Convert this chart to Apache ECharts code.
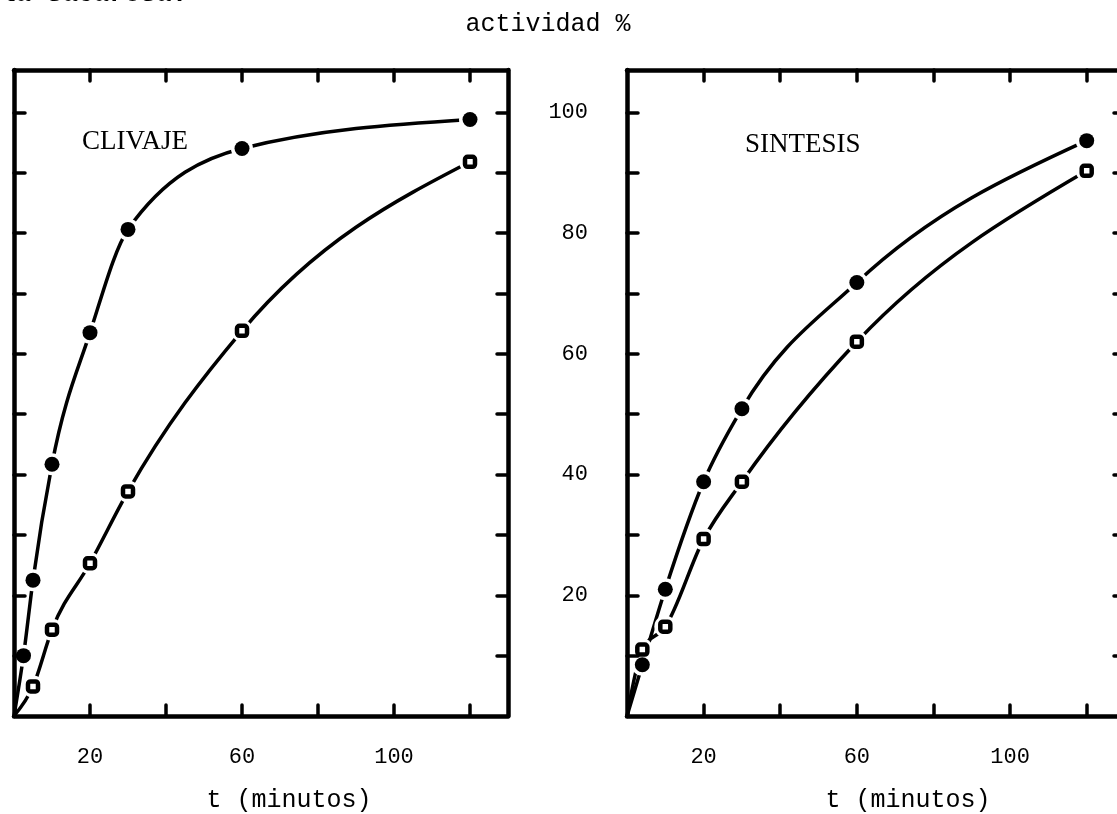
<!DOCTYPE html>
<html>
<head>
<meta charset="utf-8">
<script src="https://cdn.jsdelivr.net/npm/echarts@6/dist/echarts.min.js"></script>
<style>
  html, body { margin: 0; padding: 0; background: #fff; }
  #chart { width: 1117px; height: 814px; }
</style>
</head>
<body>
<div id="chart"></div>
<script>
// Time points (minutes) and activity (%) for each panel
const tClivFilled = [0, 2.5, 5, 10, 20, 30, 60, 120];
const clivFilled  = [0, 10, 22.5, 41.7, 63.5, 80.6, 94, 98.8];
const tClivOpen   = [0, 5, 10, 20, 30, 60, 120];
const clivOpen    = [0, 4.9, 14.3, 25.3, 37.2, 63.8, 91.8];

const tSintFilled = [0, 4, 10, 20, 30, 60, 120];
const sintFilled  = [0, 8.5, 21, 38.8, 50.9, 71.8, 95.3];
const tSintOpen   = [0, 4, 10, 20, 30, 60, 120];
const sintOpen    = [0, 11, 14.8, 29.3, 38.8, 62, 90.3];

// Axis ticks and labels
const xTicks = [20, 40, 60, 80, 100, 120];
const xLabels = [20, 60, 100];
const yTicks = [10, 20, 30, 40, 50, 60, 70, 80, 90, 100];
const yLabels = [20, 40, 60, 80, 100];

const panelNames = ['CLIVAJE', 'SINTESIS'];
const yTitle = 'actividad %';
const xTitle = 't (minutos)';

const INK = '#000';
const MONO = 'Liberation Mono';

function pairs(ts, ys) { return ts.map((t, i) => [t, ys[i]]); }
function marked(ts, ys) { return pairs(ts, ys).filter(p => p[0] > 0); }

// Monotone cubic (Fritsch–Carlson style) segments through pixel points
function monotoneSegments(p) {
  const n = p.length;
  const sign = v => (v < 0 ? -1 : 1);
  const m = new Array(n);
  for (let k = 1; k < n - 1; k++) {
    const h0 = p[k][0] - p[k - 1][0], h1 = p[k + 1][0] - p[k][0];
    const s0 = (p[k][1] - p[k - 1][1]) / h0, s1 = (p[k + 1][1] - p[k][1]) / h1;
    const q = (s0 * h1 + s1 * h0) / (h0 + h1);
    m[k] = (sign(s0) + sign(s1)) * Math.min(Math.abs(s0), Math.abs(s1), 0.5 * Math.abs(q)) || 0;
  }
  const endSlope = (a, b, t) => {
    const h = b[0] - a[0];
    return h ? (3 * (b[1] - a[1]) / h - t) / 2 : t;
  };
  m[0] = endSlope(p[0], p[1], m[1]);
  m[n - 1] = endSlope(p[n - 2], p[n - 1], m[n - 2]);
  const segs = [];
  for (let k = 0; k < n - 1; k++) {
    const dx = (p[k + 1][0] - p[k][0]) / 3;
    segs.push({
      x1: p[k][0], y1: p[k][1],
      cpx1: p[k][0] + dx, cpy1: p[k][1] + dx * m[k],
      cpx2: p[k + 1][0] - dx, cpy2: p[k + 1][1] - dx * m[k + 1],
      x2: p[k + 1][0], y2: p[k + 1][1]
    });
  }
  return segs;
}

const grids = [
  { left: 14, top: 70, width: 494, height: 646 },
  { left: 627, top: 70, width: 498, height: 646 }
];

const xAxes = [];
const yAxes = [];
grids.forEach((g, gi) => {
  ['bottom', 'top'].forEach(pos => {
    xAxes.push({
      type: 'value', gridIndex: gi, position: pos, min: 0, max: 130, z: 5,
      axisLine: { show: true, onZero: false, lineStyle: { color: INK, width: 4.5 } },
      axisTick: { show: true, inside: true, length: 11, customValues: xTicks,
                  lineStyle: { color: INK, width: 3.5, cap: 'round' } },
      axisLabel: { show: pos === 'bottom', customValues: xLabels, margin: 30,
                   color: INK, fontFamily: MONO, fontSize: 22 },
      splitLine: { show: false }
    });
  });
  ['left', 'right'].forEach(pos => {
    yAxes.push({
      type: 'value', gridIndex: gi, position: pos, min: 0, max: 107, z: 5,
      axisLine: { show: true, onZero: false, lineStyle: { color: INK, width: 4.5 } },
      axisTick: { show: true, inside: true, length: 11, customValues: yTicks,
                  lineStyle: { color: INK, width: 3.5, cap: 'round' } },
      axisLabel: { show: gi === 1 && pos === 'left', customValues: yLabels, margin: 39,
                   color: INK, fontFamily: MONO, fontSize: 22 },
      splitLine: { show: false }
    });
  });
});

function panelSeries(gi, filled, open) {
  const xi = gi * 2, yi = gi * 2;
  const base = { xAxisIndex: xi, yAxisIndex: yi, animation: false, silent: true };
  // smooth curve through the measured points, placed with the axes' own scales
  const curve = (ts, ys) => Object.assign({}, base, {
    type: 'custom', z: 2, data: pairs(ts, ys),
    renderItem: (params, api) => {
      if (params.dataIndex !== 0) return null;
      const pts = ts.map((t, i) => api.coord([t, ys[i]]));
      return {
        type: 'group',
        children: monotoneSegments(pts).map(s => ({
          type: 'bezierCurve', shape: s,
          style: { stroke: INK, lineWidth: 3.5, fill: null, lineCap: 'round' }
        }))
      };
    }
  });
  const sym = { opacity: 1 };
  return [
    curve(filled[0], filled[1]),
    curve(open[0], open[1]),
    // white halos leave a small gap between each curve and its markers
    Object.assign({}, base, {
      type: 'scatter', z: 3, symbol: 'circle', symbolSize: 22,
      data: marked(filled[0], filled[1]).concat(marked(open[0], open[1])),
      itemStyle: Object.assign({ color: '#fff' }, sym)
    }),
    Object.assign({}, base, {
      type: 'scatter', z: 4, symbol: 'circle', symbolSize: 15,
      data: marked(filled[0], filled[1]),
      itemStyle: Object.assign({ color: INK }, sym)
    }),
    Object.assign({}, base, {
      type: 'scatter', z: 4, symbol: 'roundRect', symbolSize: 10,
      data: marked(open[0], open[1]),
      itemStyle: Object.assign({ color: '#fff', borderColor: INK, borderWidth: 4.5 }, sym)
    })
  ];
}

const series = []
  .concat(panelSeries(0, [tClivFilled, clivFilled], [tClivOpen, clivOpen]))
  .concat(panelSeries(1, [tSintFilled, sintFilled], [tSintOpen, sintOpen]));

const textStyle = (size, family) => ({ fill: INK, fontFamily: family, fontSize: size });

const option = {
  backgroundColor: '#fff',
  animation: false,
  grid: grids.map(g => Object.assign({ show: false, containLabel: false, outerBoundsMode: 'none' }, g)),
  xAxis: xAxes,
  yAxis: yAxes,
  series: series,
  graphic: [
    { type: 'text', left: 0, top: -19,
      style: Object.assign(textStyle(26, MONO), { text: 'la sacarosa.', fontWeight: 'bold' }) },
    { type: 'text', x: 548, y: 24,
      style: Object.assign(textStyle(25, MONO), { text: yTitle, align: 'center', verticalAlign: 'middle' }) },
    { type: 'text', x: 289, y: 800,
      style: Object.assign(textStyle(25, MONO), { text: xTitle, align: 'center', verticalAlign: 'middle' }) },
    { type: 'text', x: 908, y: 800,
      style: Object.assign(textStyle(25, MONO), { text: xTitle, align: 'center', verticalAlign: 'middle' }) },
    { type: 'text', x: 82, y: 142,
      style: Object.assign(textStyle(27, 'Liberation Serif'), { text: panelNames[0], align: 'left', verticalAlign: 'middle' }) },
    { type: 'text', x: 745, y: 145,
      style: Object.assign(textStyle(27, 'Liberation Serif'), { text: panelNames[1], align: 'left', verticalAlign: 'middle' }) }
  ]
};

const chart = echarts.init(document.getElementById('chart'), null, { renderer: 'canvas' });
chart.setOption(option);
</script>
</body>
</html>
